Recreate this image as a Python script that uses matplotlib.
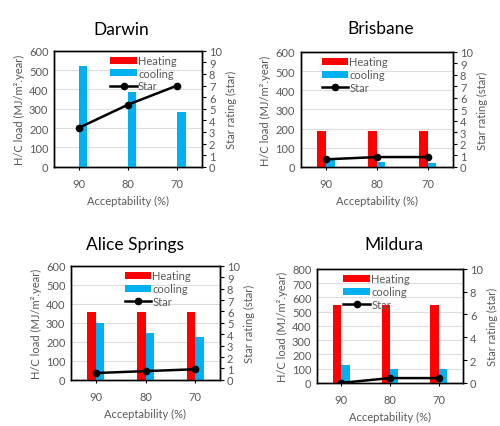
import matplotlib.pyplot as plt
import numpy as np

plt.rcParams['font.family'] = ['Lato', 'DejaVu Sans']

# categories
acceptability = ['90', '80', '70']

# Darwin
darwin_heating = [0, 0, 0]
darwin_cooling = [520, 385, 282]
darwin_star = [3.35, 5.35, 7.0]

# Brisbane
brisbane_heating = [185, 185, 185]
brisbane_cooling = [42, 27, 18]
brisbane_star = [0.65, 0.85, 0.85]

# Alice Springs
alice_heating = [356, 356, 356]
alice_cooling = [300, 249, 224]
alice_star = [0.6, 0.77, 0.93]

# Mildura
mildura_heating = [546, 546, 546]
mildura_cooling = [123, 100, 95]
mildura_star = [0.0, 0.42, 0.42]

RED = '#FF0000'
BLUE = '#00B0F0'
GREY = '#595959'

fig = plt.figure(figsize=(5, 4.27), dpi=100)


def panel(rect, title, title_xy, heating, cooling, star, ymax, ystep, rstep, leg_x):
    ax = fig.add_axes(rect)
    x = np.arange(len(acceptability))
    w = 0.17
    ax.bar(x - w / 2, heating, w, color=RED, label='Heating', zorder=3)
    ax.bar(x + w / 2, cooling, w, color=BLUE, label='cooling', zorder=3)
    ax.set_xlim(-0.5, 2.5)
    ax.set_ylim(0, ymax)
    ax.set_yticks(np.arange(0, ymax + 1, ystep))
    ax.yaxis.grid(True, color='#DDDDDD', linewidth=0.8, zorder=0)
    ax.set_axisbelow(True)
    ax.set_xticks(x)
    ax.set_xticklabels(acceptability)
    ax.tick_params(axis='y', length=0, labelsize=8, labelcolor=GREY, pad=4)
    ax.tick_params(axis='x', length=2, labelsize=8, labelcolor=GREY, pad=6)
    ax.set_xlabel('Acceptability (%)', fontsize=8, color=GREY, labelpad=4)
    ax.set_ylabel('H/C load (MJ/m\u00b2.year)', fontsize=8, color=GREY, labelpad=3)
    for s in ax.spines.values():
        s.set_color('black')
        s.set_linewidth(1.0)

    ax2 = ax.twinx()
    ax2.plot(x, star, color='black', marker='o', markersize=4.5, linewidth=1.8,
             label='Star', zorder=4)
    ax2.set_ylim(0, 10)
    ax2.set_yticks(np.arange(0, 11, rstep))
    ax2.tick_params(axis='y', length=3, labelsize=8, labelcolor=GREY, pad=2)
    ax2.set_ylabel('Star rating (star)', fontsize=8, color=GREY, labelpad=3)
    for s in ax2.spines.values():
        s.set_color('black')
        s.set_linewidth(1.0)

    # legend on the top axes so it sits above the bars and line
    h1, l1 = ax.get_legend_handles_labels()
    h2, l2 = ax2.get_legend_handles_labels()
    ax2.legend(h1 + h2, l1 + l2, loc='upper left', bbox_to_anchor=(leg_x, 1.0),
               frameon=False, fontsize=8, labelcolor=GREY, handlelength=2.4,
               handleheight=0.6, handletextpad=0.1, labelspacing=0.15,
               borderaxespad=0)
    fig.text(title_xy[0], title_xy[1], title, fontsize=12.5, ha='center', va='center')
    return ax


panel([0.108, 0.607, 0.296, 0.272], 'Darwin', (0.242, 0.93),
      darwin_heating, darwin_cooling, darwin_star, 600, 100, 1, 0.35)
panel([0.601, 0.607, 0.305, 0.269], 'Brisbane', (0.762, 0.932),
      brisbane_heating, brisbane_cooling, brisbane_star, 600, 100, 1, 0.11)
panel([0.142, 0.108, 0.298, 0.267], 'Alice Springs', (0.27, 0.426),
      alice_heating, alice_cooling, alice_star, 600, 100, 1, 0.33)
panel([0.634, 0.101, 0.292, 0.267], 'Mildura', (0.788, 0.426),
      mildura_heating, mildura_cooling, mildura_star, 800, 100, 2, 0.15)

fig.savefig('out.png', dpi=100)
